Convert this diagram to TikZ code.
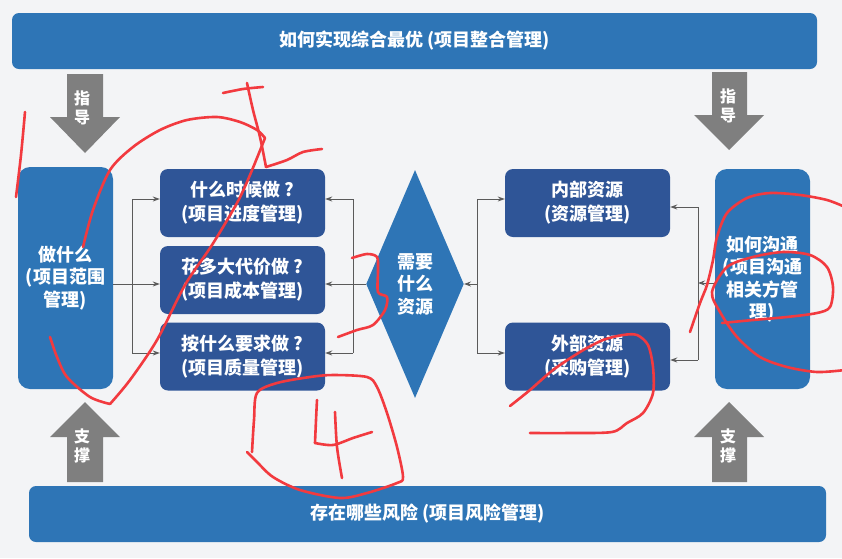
\documentclass[tikz,border=0pt]{standalone}
\usepackage{fontspec}
\setmainfont{Noto Sans CJK SC}
\usetikzlibrary{shapes.geometric,arrows.meta}
\definecolor{bg}{HTML}{F3F4F6}
\definecolor{midblue}{HTML}{2E75B6}
\definecolor{darkblue}{HTML}{2F5597}
\definecolor{arrgray}{HTML}{7F7F7F}
\definecolor{linegray}{HTML}{5A5A5A}
\definecolor{penred}{HTML}{F23A3F}
\begin{document}
\begin{tikzpicture}[x=1pt,y=-1pt,
  bar/.style={fill=midblue, rounded corners=7, minimum height=56, text=white,
    font=\bfseries\fontsize{18}{22}\selectfont},
  tallbox/.style={fill=midblue, rounded corners=12, minimum width=95, text=white, align=center,
    font=\bfseries\fontsize{18}{22.5}\selectfont},
  midbox/.style={fill=darkblue, rounded corners=8, minimum width=165, minimum height=68, text=white, align=center,
    font=\bfseries\fontsize{18}{24}\selectfont},
  vtext/.style={text=white, align=center, inner sep=0, font=\bfseries\fontsize{16}{19}\selectfont},
  conn/.style={draw=linegray, line width=0.9},
  tip/.style={-{Stealth[length=7pt,width=5pt]}},
  pen/.style={draw=penred, line width=2.6, line cap=round, line join=round}
]
\useasboundingbox (0,0) rectangle (842,558);
\fill[bg] (0,0) rectangle (842,558);

% bars
\node[bar, minimum width=805] (top) at (414.5,41) {如何实现综合最优 (项目整合管理)};
\node[bar, minimum width=797] (bottom) at (427.5,514) {存在哪些风险 (项目风险管理)};

% gray arrows
\fill[arrgray] (67,74) -- (103,74) -- (103,117) -- (120,117) -- (85,153) -- (50,117) -- (67,117) -- cycle;
\fill[arrgray] (712,72) -- (747,72) -- (747,115) -- (764,115) -- (729,150) -- (694,115) -- (712,115) -- cycle;
\fill[arrgray] (67,482) -- (103,482) -- (103,437) -- (120,437) -- (85,402) -- (50,437) -- (67,437) -- cycle;
\fill[arrgray] (712,482) -- (747,482) -- (747,437) -- (764,437) -- (729,402) -- (694,437) -- (712,437) -- cycle;
\node[vtext] (g1) at (82,108) {指\\导};
\node[vtext] (g2) at (728,106) {指\\导};
\node[vtext] (g3) at (82,446) {支\\撑};
\node[vtext] (g4) at (728,446) {支\\撑};

% boxes
\node[tallbox, minimum height=222] (scope) at (65.5,278) {做什么\\(项目范围\\管理)};
\node[tallbox, minimum height=220] (comm) at (762.5,279) {如何沟通\\(项目沟通\\相关方管\\理)};
\node[midbox] (sched) at (242.5,203) {什么时候做 ?\\(项目进度管理)};
\node[midbox] (cost) at (242.5,280) {花多大代价做 ?\\(项目成本管理)};
\node[midbox] (qual) at (242.5,356.5) {按什么要求做 ?\\(项目质量管理)};
\node[midbox] (intr) at (587.5,203) {内部资源\\(资源管理)};
\node[midbox] (extr) at (587.5,356.5) {外部资源\\(采购管理)};
\node[diamond, fill=midblue, minimum width=80, minimum height=228, inner sep=0, text=white, align=center,
  font=\bfseries\fontsize{18}{22.5}\selectfont] (res) at (415,284) {需要\\什么\\资源};

% buses
\coordinate (LB1) at (132,199); \coordinate (LB2) at (132,284); \coordinate (LB3) at (132,353);
\coordinate (MB1) at (353,199); \coordinate (MB2) at (353,284); \coordinate (MB3) at (353,353);
\coordinate (RB1) at (477,199); \coordinate (RB2) at (477,284); \coordinate (RB3) at (477,353);
\coordinate (FB1) at (698,207); \coordinate (FB2) at (698,283); \coordinate (FB3) at (698,360);

\draw[conn] (scope.east |- LB2) -- (LB2);
\draw[conn] (LB1) -- (LB3);
\draw[conn,tip] (LB1) -- (LB1 -| sched.west);
\draw[conn,tip] (LB2) -- (LB2 -| cost.west);
\draw[conn,tip] (LB3) -- (LB3 -| qual.west);

\draw[conn] (res.west) -- (MB2);
\draw[conn] (MB1) -- (MB3);
\draw[conn,tip] (MB1) -- (MB1 -| sched.east);
\draw[conn,tip] (MB2) -- (MB2 -| cost.east);
\draw[conn,tip] (MB3) -- (MB3 -| qual.east);

\draw[conn,tip] (RB2) -- (res.east);
\draw[conn] (RB1) -- (RB3);
\draw[conn,tip] (RB1) -- (RB1 -| intr.west);
\draw[conn,tip] (RB3) -- (RB3 -| extr.west);

\draw[conn,tip] (comm.west |- FB2) -- (FB2);
\draw[conn] (FB1) -- (FB3);
\draw[conn,tip] (FB1) -- (FB1 -| intr.east);
\draw[conn,tip] (FB3) -- (FB3 -| extr.east);

% red handwriting
\draw[pen] plot[smooth] coordinates {(25,112) (21,155) (16,197)};
\draw[pen] plot[smooth] coordinates {(83,247) (93,210) (110,170) (133,147) (160,130) (187,120) (217,117) (240,122) (257,130) (265,138)};
\draw[pen] plot[smooth] coordinates {(265,138) (250,175) (237,203) (212,245) (185,285) (157,340) (130,380) (110,404)};
\draw[pen] plot[smooth] coordinates {(110,404) (90,397) (67,377) (57,357) (50,337)};
\draw[pen] plot[smooth] coordinates {(223,93) (243,89) (263,87)};
\draw[pen] plot[smooth] coordinates {(247,83) (253,110) (260,137) (266,167)};
\draw[pen] plot[smooth] coordinates {(266,167) (287,160) (303,152) (322,149)};
\draw[pen] plot[smooth] coordinates {(352,258) (367,254) (377,257) (378,270) (378,292) (387,297) (385,310) (373,325) (357,330) (338,337)};
\draw[pen] plot[smooth] coordinates {(252,452) (254,420) (257,393) (277,383) (310,377) (333,375) (367,377) (377,387) (387,413) (397,447) (403,477) (397,483) (367,493) (340,498) (300,490) (273,477) (257,462) (247,452)};
\draw[pen] plot[smooth] coordinates {(317,400) (316,420) (315,443)};
\draw[pen] plot[smooth] coordinates {(315,443) (333,445) (353,438) (372,432)};
\draw[pen] plot[smooth] coordinates {(335,412) (337,447) (342,478)};
\draw[pen] plot[smooth] coordinates {(510,406) (530,390) (553,370) (580,352) (603,340) (623,335) (637,335) (648,345) (653,367) (653,393) (643,413) (627,423) (612,432) (570,433) (530,433)};
\draw[pen] plot[smooth] coordinates {(690,332) (700,303) (707,285) (713,260) (717,237) (727,213) (747,198) (770,193) (800,195) (827,200) (845,207)};
\draw[pen] plot[smooth] coordinates {(845,370) (817,372) (787,367) (760,357) (737,337) (720,312) (712,292) (727,267) (753,257) (783,252) (810,255) (827,267) (833,287) (830,307) (817,313) (787,317) (753,320) (722,323)};
\end{tikzpicture}
\end{document}
